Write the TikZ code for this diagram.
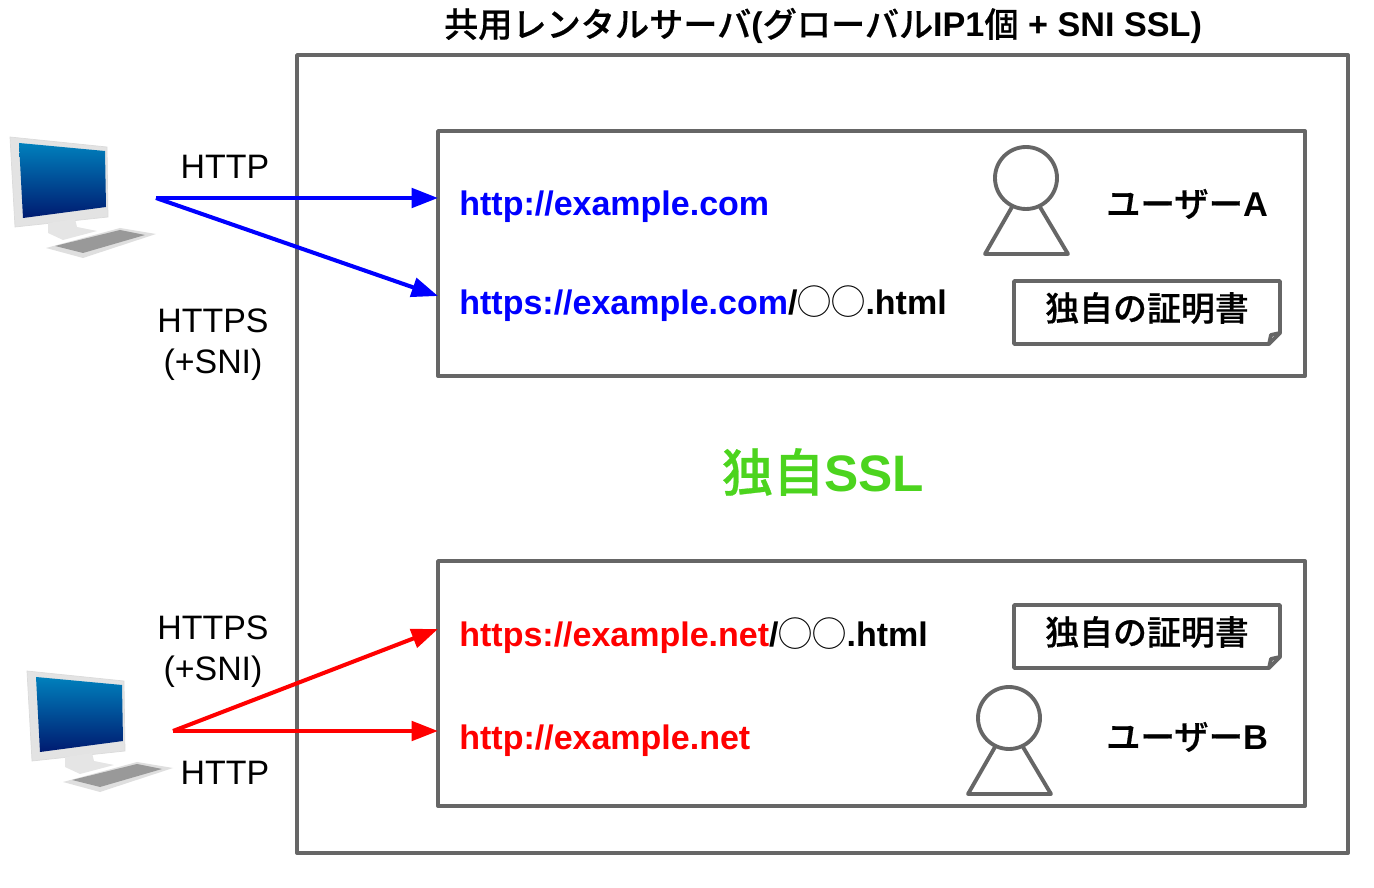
\documentclass[tikz,border=0pt]{standalone}
\usepackage{fontspec}
\setmainfont{Liberation Sans}
\newfontfamily\cjk[BoldFont={Noto Sans CJK JP Medium},BoldFeatures={FakeBold=0.5}]{Noto Sans CJK JP}
\usetikzlibrary{arrows.meta}
\definecolor{linegray}{HTML}{666666}
\definecolor{sslgreen}{HTML}{4CD41E}
\definecolor{screentop}{HTML}{0080BC}
\definecolor{screenlow}{HTML}{001A70}
\newcommand{\fs}[1]{\fontsize{#1}{#1}\selectfont}
\tikzset{
  box/.style={draw=linegray,line width=2.2pt,line join=round},
  proto/.style={font=\fs{19.3}},
  url/.style={inner sep=0pt,font=\fs{19.35}\bfseries},
  owner/.style={font=\fs{19.6}\bfseries\cjk},
  link/.style={line width=2.3pt,-{Triangle[length=15pt,width=11pt]}},
  pc/.pic={
    \fill[gray!22,draw=gray!28] (10,137) -- (107,147) -- (108,217) -- (15,227) -- cycle;
    \shade[top color=screentop,bottom color=screenlow] (19,143) -- (105,151) -- (106,207) -- (23,218) -- cycle;
    \fill[gray!20] (48,223) -- (75,219) -- (77,227) -- (97,231) -- (63,240) -- (48,233) -- cycle;
    \fill[gray!25] (46,248) -- (120,228) -- (156,234) -- (83,258) -- cycle;
    \fill[gray!80] (55,246) -- (120,230) -- (145,235) -- (83,253) -- cycle;
  },
  person/.pic={
    \draw[box] (1026,178) circle (31);
    \draw[box] (1012,207) -- (985,254) -- (1068,254) -- (1040,207);
  },
  cert/.pic={
    \draw[box] (1014,281) -- (1280,281) -- (1280,333) -- (1269,344) -- (1014,344) -- cycle;
    \draw[box] (1269,344) -- (1271,335) -- (1280,333);
    \draw (1147,308) node[owner,font=\fs{19.3}\bfseries\cjk]{独自の証明書};
  },
}
\begin{document}
\begin{tikzpicture}[x=0.02cm,y=-0.02cm]
  \useasboundingbox (0,0) rectangle (1374,888);
  % server and the two user areas
  \draw[box] (297,55) rectangle (1348,853);
  \draw[box] (438,131) rectangle (1305,376);
  \draw[box] (438,561) rectangle (1305,806);
  \draw (823,26) node[font=\fs{19.45}\bfseries](title){{\cjk 共用レンタルサーバ}({\cjk グローバル}IP1{\cjk 個} + SNI SSL)};
  \draw (823,472) node[font=\fs{29.2}\bfseries,text=sslgreen](ssl){{\cjk 独自}SSL};

  % user A
  \pic at (0,0) {pc};
  \pic at (0,0) {person};
  \pic at (0,0) {cert};
  \draw (1187,204) node[owner](usera){ユーザー{\rmfamily A}};
  \draw (459,207) node[right,url,text=blue](urla){http://example.com};
  \draw (459,304) node[right,url,text=blue](urlas){https://example.com{\color{black}/{\cjk\mdseries ◯◯}.html}};
  \draw (225,167) node[proto](httpa){HTTP};
  \draw (213,321) node[proto](httpsa){HTTPS};
  \draw (213,364.5) node[proto](snia){(+SNI)};
  \coordinate (pca) at (156,198);
  \coordinate (ina) at (438,198);
  \coordinate (inas) at (438,296);
  \draw[link,blue] (pca) -- (ina);
  \draw[link,blue] (pca) -- (inas);

  % user B
  \pic at (17,534) {pc};
  \pic at (-17,540) {person};
  \pic at (0,324) {cert};
  \draw (1187,737) node[owner](userb){ユーザー{\rmfamily B}};
  \draw (459,741) node[right,url,text=red](urlb){http://example.net};
  \draw (459,636) node[right,url,text=red](urlbs){https://example.net{\color{black}/{\cjk\mdseries ◯◯}.html}};
  \draw (225,773) node[proto](httpb){HTTP};
  \draw (213,628) node[proto](httpsb){HTTPS};
  \draw (213,671.5) node[proto](snib){(+SNI)};
  \coordinate (pcb) at (173,731);
  \coordinate (inb) at (438,731);
  \coordinate (inbs) at (438,629);
  \draw[link,red] (pcb) -- (inb);
  \draw[link,red] (pcb) -- (inbs);
\end{tikzpicture}
\end{document}
